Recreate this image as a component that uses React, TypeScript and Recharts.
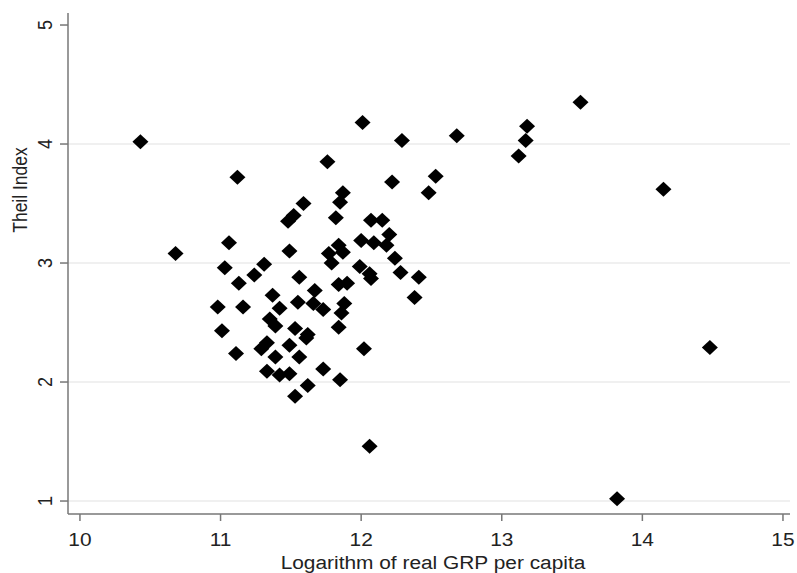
import { ScatterChart, Scatter, XAxis, YAxis, ReferenceLine } from 'recharts';

const grpLog = [
  10.43, 10.68, 10.98, 11.01, 11.03, 11.06, 11.12, 11.13, 11.16, 11.11,
  11.24, 11.31, 11.48, 11.52, 11.49, 11.59, 11.56, 11.37, 11.42, 11.35,
  11.39, 11.33, 11.29, 11.39, 11.33, 11.42, 11.49, 11.49, 11.53, 11.53,
  11.55, 11.56, 11.61, 11.62, 11.62, 11.67, 11.66, 11.73, 11.73, 11.76,
  11.77, 11.79, 11.82, 11.84, 11.87, 11.87, 11.85, 11.84, 11.9, 11.88,
  11.86, 11.84, 11.85, 12.01, 11.99, 12.0, 12.07, 12.15, 12.09, 12.18,
  12.2, 12.06, 12.07, 12.02, 12.06, 12.22, 12.24, 12.28, 12.41, 12.38,
  12.29, 12.48, 12.53, 12.68, 13.12, 13.17, 13.18, 13.56, 14.15, 14.48,
  13.82,
];
const theil = [
  4.02, 3.08, 2.63, 2.43, 2.96, 3.17, 3.72, 2.83, 2.63, 2.24,
  2.9, 2.99, 3.35, 3.4, 3.1, 3.5, 2.88, 2.73, 2.62, 2.53,
  2.47, 2.33, 2.28, 2.21, 2.09, 2.06, 2.07, 2.31, 2.45, 1.88,
  2.67, 2.21, 2.37, 2.4, 1.97, 2.77, 2.66, 2.61, 2.11, 3.85,
  3.08, 3.0, 3.38, 3.15, 3.09, 3.59, 3.51, 2.82, 2.83, 2.66,
  2.58, 2.46, 2.02, 4.18, 2.97, 3.19, 3.36, 3.36, 3.17, 3.15,
  3.24, 2.91, 2.87, 2.28, 1.46, 3.68, 3.04, 2.92, 2.88, 2.71,
  4.03, 3.59, 3.73, 4.07, 3.9, 4.03, 4.15, 4.35, 3.62, 2.29,
  1.02,
];
const xTicks = [10, 11, 12, 13, 14, 15];
const yTicks = [1, 2, 3, 4, 5];
const gridLevels = [1, 2, 3, 4];

const points = grpLog.map((x, i) => ({ x, y: theil[i] }));

const FONT = '"Liberation Sans", Arial, sans-serif';
const STRETCH = 1.16; // the source image is a bit wider than tall
const AXIS = '#777';

const Diamond = (props: any) => {
  const { cx, cy } = props;
  return (
    <polygon
      points={`${cx - 8},${cy} ${cx},${cy - 7.5} ${cx + 8},${cy} ${cx},${cy + 7.5}`}
      fill="#000"
    />
  );
};

const XTick = ({ x, y, payload }: any) => (
  <text
    transform={`translate(${x},${y + 23}) scale(${STRETCH},1)`}
    textAnchor="middle"
    fontSize={18}
    fontFamily={FONT}
    fill="#222"
  >
    {payload.value}
  </text>
);

const YTick = ({ x, y, payload }: any) => (
  <text
    transform={`translate(${x - 6},${y}) scale(${STRETCH},1) rotate(-90)`}
    textAnchor="middle"
    fontSize={18}
    fontFamily={FONT}
    fill="#222"
  >
    {payload.value}
  </text>
);

const XTitle = ({ viewBox }: any) => (
  <text
    transform={`translate(${viewBox.x + viewBox.width / 2 + 4},${viewBox.y + 55}) scale(${STRETCH},1)`}
    textAnchor="middle"
    fontSize={18}
    fontFamily={FONT}
    fill="#222"
  >
    Logarithm of real GRP per capita
  </text>
);

const YTitle = ({ viewBox }: any) => (
  <text
    transform={`translate(${viewBox.x + 27},${viewBox.y + 177}) scale(${STRETCH},1) rotate(-90)`}
    textAnchor="middle"
    fontSize={17.5}
    fontFamily={FONT}
    fill="#222"
  >
    Theil Index
  </text>
);

export default function App() {
  return (
    <div style={{ position: 'absolute', left: 0, top: 0, background: '#fff' }}>
      <ScatterChart
        width={797}
        height={573}
        margin={{ top: 13, right: 7, bottom: 0, left: 0 }}
      >
        <XAxis
          type="number"
          dataKey="x"
          domain={[9.915, 15.05]}
          ticks={xTicks}
          allowDataOverflow
          height={59}
          axisLine={{ stroke: AXIS, strokeWidth: 1.5 }}
          tickLine={{ stroke: AXIS, strokeWidth: 1.5 }}
          tickSize={7}
          tick={<XTick />}
          label={{ content: <XTitle /> }}
        />
        <YAxis
          type="number"
          dataKey="y"
          domain={[0.891, 5.101]}
          ticks={yTicks}
          allowDataOverflow
          width={68}
          axisLine={{ stroke: AXIS, strokeWidth: 1.5 }}
          tickLine={{ stroke: AXIS, strokeWidth: 1.5 }}
          tickSize={8}
          tick={<YTick />}
          label={{ content: <YTitle /> }}
        />
        {gridLevels.map((v) => (
          <ReferenceLine key={v} y={v} stroke="#ebebeb" strokeWidth={1.5} />
        ))}
        <Scatter data={points} shape={<Diamond />} isAnimationActive={false} />
      </ScatterChart>
    </div>
  );
}
